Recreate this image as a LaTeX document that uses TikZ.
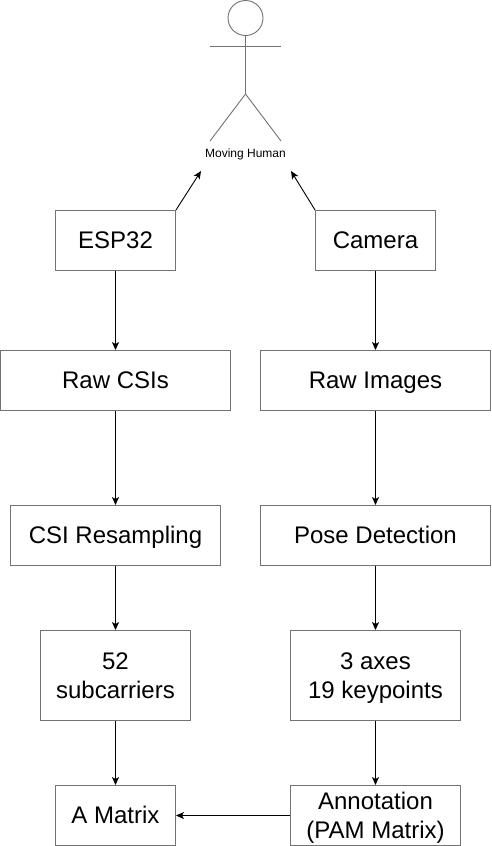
\documentclass[tikz,border=0pt]{standalone}
\usepackage{fontspec}
\setmainfont{Liberation Sans}
\usetikzlibrary{arrows.meta}
\newcommand{\lnst}{\rule[-6.4pt]{0pt}{29pt}}
\tikzset{
  px/.style={x=1pt,y=-1pt},
  boxn/.style={draw=black!55,fill=white,line width=0.9pt,inner sep=0pt,align=center,font=\fontsize{24}{29}\selectfont},
  conn/.style={draw=black,line width=0.9pt,-{Stealth[length=8pt,width=7pt,inset=2pt]}},
  fig/.style={draw=black!55,line width=0.9pt}
}
\begin{document}
\begin{tikzpicture}[px]
\useasboundingbox (0,0) rectangle (491,846);
\fill[white] (0,0) rectangle (491,846);
\newcommand{\bx}[6]{\node[boxn,minimum width=#4pt,minimum height=#5pt] (#1) at (#2,#3) {#6};}
\bx{esp}{115.5}{240.5}{120}{60}{\lnst ESP32}
\bx{cam}{375.5}{240.5}{120}{60}{\lnst Camera}
\bx{csi}{115.5}{380.5}{230}{60}{\lnst Raw CSIs}
\bx{img}{375.5}{380.5}{230}{60}{\lnst Raw Images}
\bx{res}{115.5}{535.5}{210}{60}{\lnst CSI Resampling}
\bx{pose}{375.5}{535.5}{230}{60}{\lnst Pose Detection}
\bx{sub}{115.5}{675.5}{150}{90}{\lnst 52\\\lnst subcarriers}
\bx{key}{375.5}{675.5}{170}{90}{\lnst 3 axes\\\lnst 19 keypoints}
\bx{mat}{115.5}{815.5}{120}{60}{\lnst A Matrix}
\bx{pam}{375.5}{815.5}{170}{60}{\lnst Annotation\hspace{6pt}\\\lnst (PAM Matrix)}
\draw[fig] (245.5,18) circle (17.5);
\draw[fig] (245.5,35.5) -- (245.5,94);
\draw[fig] (210,46.5) -- (281,46.5);
\draw[fig] (245.5,94) -- (210,141);
\draw[fig] (245.5,94) -- (281,141);
\node[font=\fontsize{12}{14}\selectfont] (hum) at (245.5,154.5) {Moving Human};
\coordinate (ha) at (201,171);
\coordinate (hb) at (291,171);
\draw[conn] (esp.north east) -- (ha);
\draw[conn] (cam.north west) -- (hb);
\draw[conn] (esp) -- (csi);
\draw[conn] (cam) -- (img);
\draw[conn] (csi) -- (res);
\draw[conn] (img) -- (pose);
\draw[conn] (res) -- (sub);
\draw[conn] (pose) -- (key);
\draw[conn] (sub) -- (mat);
\draw[conn] (key) -- (pam);
\draw[conn] (pam) -- (mat);
\end{tikzpicture}
\end{document}
